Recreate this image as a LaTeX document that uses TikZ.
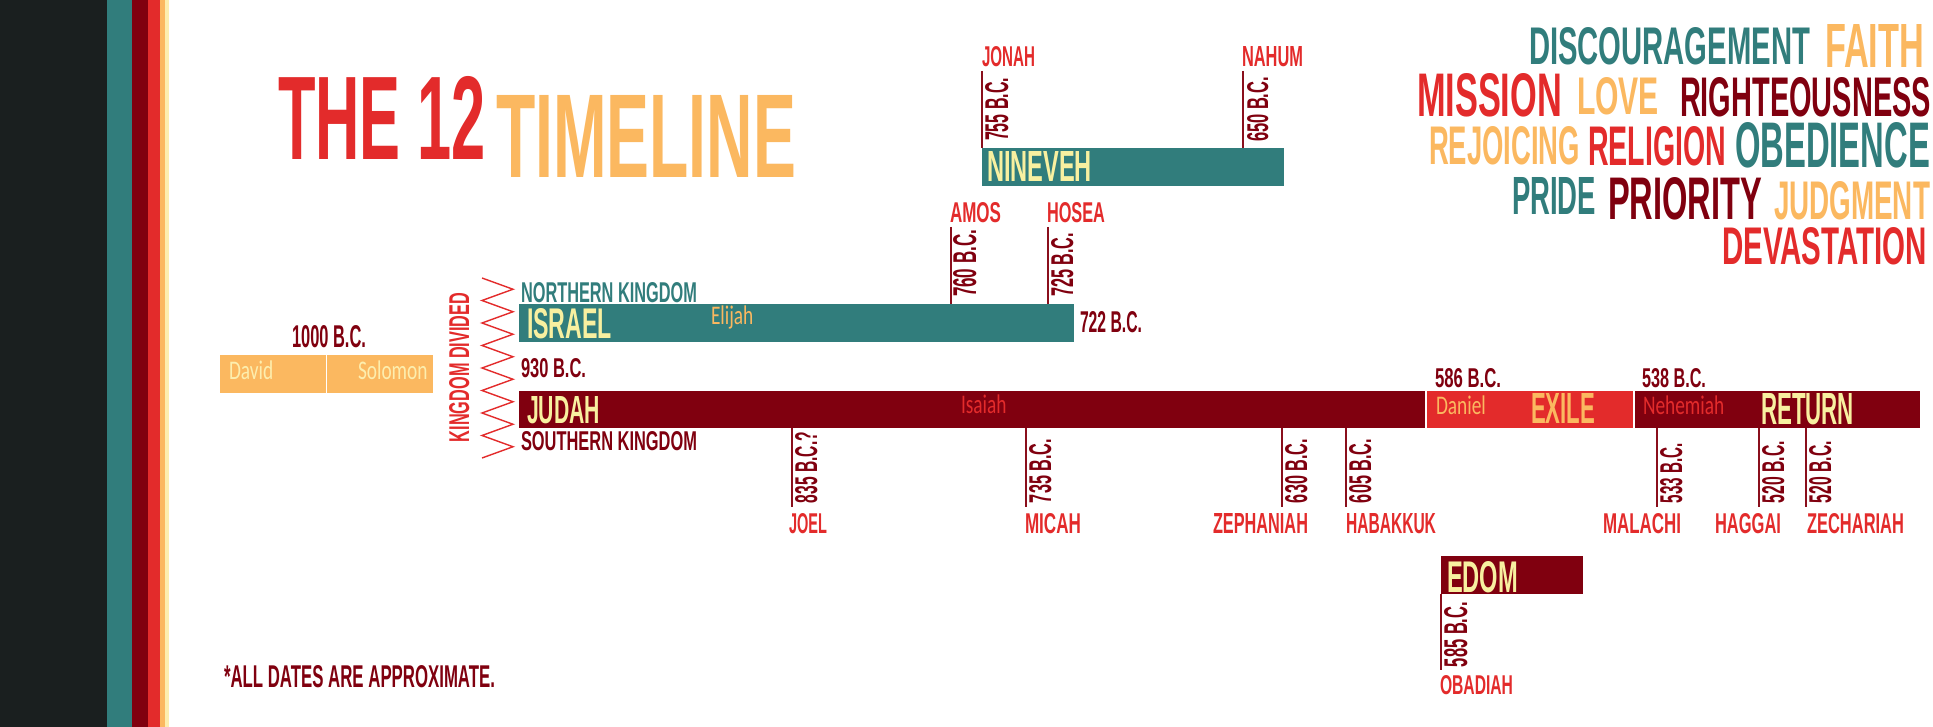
\documentclass[tikz,border=0pt]{standalone}
\usepackage{fontspec}
\usepackage{graphicx}
\newfontfamily\stencilfont{Liberation Sans}
\newfontfamily\lightfont[FakeStretch=0.72]{Carlito}
\newcommand\stxt[3]{\resizebox{#1pt}{#2pt}{\stencilfont\bfseries #3}}
\definecolor{cDark}{HTML}{1A1F1F}
\definecolor{cTeal}{HTML}{317D7C}
\definecolor{cDarkRed}{HTML}{80000F}
\definecolor{cRed}{HTML}{E32B2B}
\definecolor{cOrange}{HTML}{FBB860}
\definecolor{cPale}{HTML}{FDEEAE}
\definecolor{cYellow}{HTML}{F8F0A0}
\definecolor{cTick}{HTML}{8A0F1C}
\begin{document}
\begin{tikzpicture}[x=1pt,y=-1pt,
  lbl/.style={inner sep=0pt, outer sep=0pt, anchor=base west},
  vlbl/.style={lbl, rotate=90, text=cDarkRed},
  tickline/.style={draw=cTick, line width=2pt},
  light/.style={lbl, font=\lightfont\fontsize{26.9}{30}\selectfont},
  zig/.style={draw=cRed, line width=1.4pt, line join=miter}]
\useasboundingbox (0,0) rectangle (1933,727);
\fill[white] (0,0) rectangle (1933,727);
% stripes
\fill[cDark] (0,0) rectangle (107,727);
\fill[cTeal] (107,0) rectangle (132,727);
\fill[cDarkRed] (132,0) rectangle (148,727);
\fill[cRed] (148,0) rectangle (160,727);
\fill[cOrange] (160,0) rectangle (165,727);
\fill[cPale] (165,0) rectangle (169,727);
% title
\node[lbl,text=cRed] (the12) at (278,160) {\stxt{208}{83}{THE 12}};
\node[lbl,text=cOrange] (timeline) at (496,178) {\stxt{300}{82}{TIMELINE}};
% word cloud
\node[lbl,text=cTeal] (discour) at (1529,65) {\stxt{281}{37}{DISCOURAGEMENT}};
\node[lbl,text=cOrange] (faith) at (1825,68) {\stxt{99}{43}{FAITH}};
\node[lbl,text=cRed] (mission) at (1417,117) {\stxt{145}{43}{MISSION}};
\node[lbl,text=cOrange] (love) at (1577,115) {\stxt{82}{37}{LOVE}};
\node[lbl,text=cDarkRed] (righteous) at (1680,117) {\stxt{251}{39}{RIGHTEOUSNESS}};
\node[lbl,text=cOrange] (rejoicing) at (1429,165) {\stxt{151}{38}{REJOICING}};
\node[lbl,text=cRed] (religion) at (1588,166) {\stxt{138}{39}{RELIGION}};
\node[lbl,text=cTeal] (obedience) at (1735,168) {\stxt{195}{45}{OBEDIENCE}};
\node[lbl,text=cTeal] (pride) at (1512,215) {\stxt{84}{37}{PRIDE}};
\node[lbl,text=cDarkRed] (priority) at (1608,220) {\stxt{154}{42}{PRIORITY}};
\node[lbl,text=cOrange] (judgment) at (1774,220) {\stxt{156}{38}{JUDGMENT}};
\node[lbl,text=cRed] (devastation) at (1722,265) {\stxt{205}{37}{DEVASTATION}};
% Nineveh
\fill[cTeal] (982,148) rectangle (1284,186);
\draw[tickline] (982,71) -- (982,148);
\draw[tickline] (1243,71) -- (1243,148);
\node[lbl,text=cRed] (jonah) at (982,67) {\stxt{53}{20}{JONAH}};
\node[lbl,text=cRed] (nahum) at (1242,67) {\stxt{61}{20}{NAHUM}};
\node[vlbl] (d755) at (1008,141) {\stxt{63}{23}{755 B.C.}};
\node[vlbl] (d650) at (1268,142) {\stxt{65}{21}{650 B.C.}};
\node[lbl,text=cYellow] (nineveh) at (987,182) {\stxt{105}{30}{NINEVEH}};
% Israel
\fill[cTeal] (519,304) rectangle (1074,342);
\draw[tickline] (951,227) -- (951,304);
\draw[tickline] (1048,227) -- (1048,304);
\node[lbl,text=cRed] (amos) at (950,223) {\stxt{51}{20}{AMOS}};
\node[lbl,text=cRed] (hosea) at (1047,223) {\stxt{58}{20}{HOSEA}};
\node[vlbl] (d760) at (976,297) {\stxt{67}{23}{760 B.C.}};
\node[vlbl] (d725) at (1073,297) {\stxt{64}{22}{725 B.C.}};
\node[lbl,text=cYellow] (israel) at (527,338) {\stxt{85}{30}{ISRAEL}};
\node[light,text=cOrange] (elijah) at (711,325) {Elijah};
\node[lbl,text=cDarkRed] (d722) at (1080,333) {\stxt{62}{21}{722 B.C.}};
\node[lbl,text=cTeal] (north) at (521,302) {\stxt{176}{20}{NORTHERN KINGDOM}};
% United kingdom
\node[lbl,text=cDarkRed] (d1000) at (292,347) {\stxt{74}{22}{1000 B.C.}};
\fill[cOrange] (220,355) rectangle (433,393);
\draw[white, line width=1pt] (326,355) -- (326,393);
\node[light,text=cPale] (david) at (229,379) {David};
\node[light,text=cPale] (solomon) at (358,379) {Solomon};
\node[vlbl,text=cRed] (divided) at (469,442) {\stxt{149}{20}{KINGDOM DIVIDED}};
\draw[zig] (482,278) \foreach \k in {0,...,7} { -- (513,{289.25+22.5*\k}) -- (482,{300.5+22.5*\k}) };
\node[lbl,text=cDarkRed] (d930) at (521,377) {\stxt{65}{19}{930 B.C.}};
% Judah
\fill[cDarkRed] (519,391) rectangle (1425,428);
\fill[cRed] (1426.5,391) rectangle (1633,428);
\fill[cDarkRed] (1634.5,391) rectangle (1920,428);
\node[lbl,text=cYellow] (judah) at (527,423) {\stxt{73}{27}{JUDAH}};
\node[lbl,text=cDarkRed] (south) at (521,450) {\stxt{176}{19}{SOUTHERN KINGDOM}};
\node[light,text=cRed] (isaiah) at (961,413) {Isaiah};
\node[lbl,text=cDarkRed] (d586) at (1435,387) {\stxt{66}{19}{586 B.C.}};
\node[lbl,text=cDarkRed] (d538) at (1642,387) {\stxt{64}{19}{538 B.C.}};
\node[light,text=cOrange] (daniel) at (1436,414) {Daniel};
\node[lbl,text=cOrange] (exile) at (1531,423) {\stxt{64}{30}{EXILE}};
\node[light,text=cRed] (nehemiah) at (1643,414) {Nehemiah};
\node[lbl,text=cYellow] (return) at (1761,424) {\stxt{93}{31}{RETURN}};
% ticks below Judah
\foreach \x/\d/\len/\nm in {792/835 B.C.?/71/joel,1026/735 B.C./64/micah,1282/630 B.C./64/zeph,1346/605 B.C./64/hab,1657/533 B.C./60/mal,1759/520 B.C./62/hag,1806/520 B.C./62/zech}{
  \draw[tickline] (\x,428) -- (\x,507);
  \node[vlbl] (t\nm) at ({\x+25},503) {\stxt{\len}{22}{\d}};
}
\node[lbl,text=cRed] (joel) at (789,533) {\stxt{38}{20}{JOEL}};
\node[lbl,text=cRed] (micah) at (1025,533) {\stxt{56}{20}{MICAH}};
\node[lbl,text=cRed] (zephaniah) at (1213,533) {\stxt{95}{20}{ZEPHANIAH}};
\node[lbl,text=cRed] (habakkuk) at (1346,533) {\stxt{90}{20}{HABAKKUK}};
\node[lbl,text=cRed] (malachi) at (1603,533) {\stxt{78}{20}{MALACHI}};
\node[lbl,text=cRed] (haggai) at (1715,533) {\stxt{66}{20}{HAGGAI}};
\node[lbl,text=cRed] (zechariah) at (1807,533) {\stxt{97}{20}{ZECHARIAH}};
% Edom
\fill[cDarkRed] (1441,556) rectangle (1583,594);
\node[lbl,text=cYellow] (edom) at (1447,592) {\stxt{71}{31}{EDOM}};
\draw[tickline] (1441,594) -- (1441,670);
\node[vlbl] (d585) at (1467,667) {\stxt{65}{23}{585 B.C.}};
\node[lbl,text=cRed] (obadiah) at (1440,694) {\stxt{73}{19}{OBADIAH}};
% footnote
\node[lbl,text=cDarkRed] (note) at (224,687) {\stxt{271}{22}{*ALL DATES ARE APPROXIMATE.}};
\end{tikzpicture}
\end{document}
